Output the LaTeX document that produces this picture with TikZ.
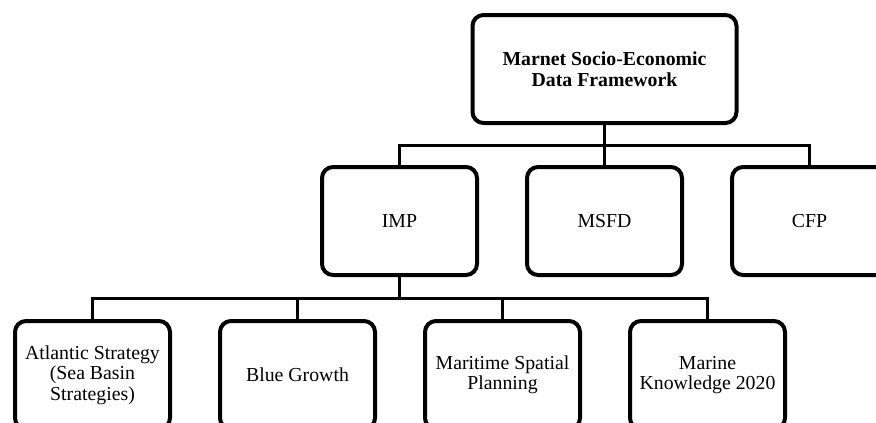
\documentclass[tikz,border=0pt]{standalone}
\usepackage{fontspec}
\setmainfont{Liberation Serif}
\begin{document}
\begin{tikzpicture}[x=1pt,y=-1pt,
  box/.style={draw=black, line width=4pt, rounded corners=11pt, fill=white,
    minimum width=155pt, minimum height=108pt, inner sep=2pt, align=center,
    font=\fontsize{19.8}{20.5}\selectfont},
  topbox/.style={box, minimum width=264pt, minimum height=108pt,
    font=\fontsize{19.8}{20.5}\selectfont\bfseries},
  conn/.style={draw=black, line width=3pt}]
\useasboundingbox (0,0) rectangle (876,423);
\clip (0,0) rectangle (876,423);
\coordinate (bus1) at (0,145.5);
\coordinate (bus2) at (0,298);
% nodes
\node[topbox] (top) at (604.5,69) {Marnet Socio-Economic\\Data Framework};
\node[box] (imp) at (399.5,221) {IMP};
\node[box] (msfd) at (604.5,221) {MSFD};
\node[box] (cfp) at (809.5,221) {CFP};
\node[box] (atl) at (92.5,375) {Atlantic Strategy\\(Sea Basin\\Strategies)};
\node[box] (bg) at (297.5,375) {Blue Growth};
\node[box] (msp) at (502.5,375) {Maritime Spatial\\Planning};
\node[box] (mk) at (707.5,375) {Marine\\Knowledge 2020};
% connectors
\draw[conn] (top.south) -- (msfd.north);
\draw[conn] (imp.north) -- (imp.north |- bus1) -- (cfp.north |- bus1) -- (cfp.north);
\draw[conn] (imp.south) -- (imp.south |- bus2);
\draw[conn] (atl.north) -- (atl.north |- bus2) -- (mk.north |- bus2) -- (mk.north);
\draw[conn] (bg.north) -- (bg.north |- bus2);
\draw[conn] (msp.north) -- (msp.north |- bus2);
\end{tikzpicture}
\end{document}
